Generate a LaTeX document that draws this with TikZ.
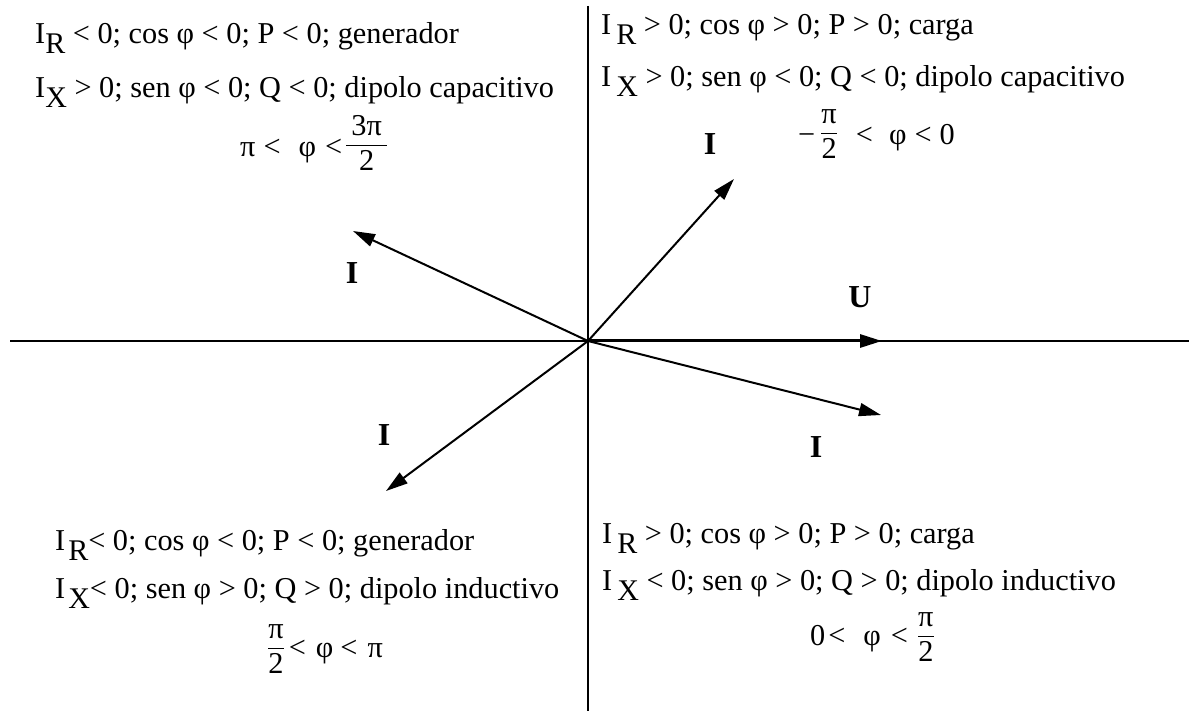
\documentclass[tikz,border=0pt]{standalone}
\usepackage{amsmath}
\usepackage{fontspec}
\setmainfont{Liberation Serif}
\usetikzlibrary{arrows.meta}
\newcommand{\Sb}[1]{\raisebox{-10pt}{\fontsize{30}{31}\selectfont #1}}
\newcommand{\fr}[3][0pt]{\raisebox{#1}{$\genfrac{}{}{1.4pt}{0}{\mbox{#2}}{\mbox{#3}}$}}
\begin{document}
\begin{tikzpicture}[x=1pt,y=-1pt,
  txt/.style={anchor=base west,inner sep=0pt,font=\fontsize{30.3}{35}\selectfont},
  lbl/.style={inner sep=0pt,font=\fontsize{32}{36}\selectfont\bfseries},
  axis/.style={line width=1.4pt},
  vec/.style={line width=2pt,-{Triangle[length=22pt,width=13pt]}},
  uvec/.style={line width=3pt,-{Triangle[length=22pt,width=13pt]}}]
\useasboundingbox (0,0) rectangle (1189,711);
% axes
\coordinate (O) at (588,341);
\coordinate (xl) at (10,341);
\coordinate (xr) at (1189,341);
\coordinate (yt) at (588,6);
\coordinate (yb) at (588,711);
\draw[axis] (xl) -- (xr);
\draw[axis] (yt) -- (yb);
% vectors
\coordinate (tU) at (882,341);
\coordinate (tUL) at (353,231);
\coordinate (tUR) at (734,179);
\coordinate (tLL) at (386,491);
\coordinate (tLR) at (881,415);
\draw[uvec] (O) -- (tU);
\draw[vec] (O) -- (tUL);
\draw[vec] (O) -- (tUR);
\draw[vec] (O) -- (tLL);
\draw[vec] (O) -- (tLR);
% vector labels
\node[lbl] (Ul) at (860,297) {U};
\node[lbl] (Iul) at (352,273) {I};
\node[lbl] (Iur) at (710,144) {I};
\node[lbl] (Ill) at (384,435) {I};
\node[lbl] (Ilr) at (816,447) {I};
% top-left quadrant
\node[txt] (q2a) at (35,44) {I\Sb{R} < 0; cos φ < 0; P < 0; generador};
\node[txt] (q2b) at (35,98) {I\Sb{X} > 0; sen φ < 0; Q < 0; dipolo capacitivo};
\node[txt] (q2c) at (240,157) {π\hspace{8pt}<\hspace{18pt}φ\hspace{9pt}<\hspace{3pt}\fr[5pt]{\hspace{5pt}3π\hspace{5pt}}{2}};
% top-right quadrant
\node[txt] (q1a) at (601,35) {I\hspace{5pt}\Sb{R} > 0; cos φ > 0; P > 0; carga};
\node[txt] (q1b) at (601,87) {I\hspace{5pt}\Sb{X} > 0; sen φ < 0; Q < 0; dipolo capacitivo};
\node[txt] (q1c) at (798,145) {−\hspace{5pt}\fr[5pt]{π}{2}\hspace{18pt}<\hspace{16pt}φ\hspace{8pt}<\hspace{8pt}0};
% bottom-left quadrant
\node[txt] (q3a) at (55,550) {I\hspace{3pt}\Sb{R}< 0; cos φ < 0; P < 0; generador};
\node[txt] (q3b) at (55,598) {I\hspace{3pt}\Sb{X}< 0; sen φ > 0; Q > 0; dipolo inductivo};
\node[txt] (q3c) at (267,657) {\fr[2pt]{π}{2}\hspace{4pt}<\hspace{10pt}φ\hspace{7pt}<\hspace{10pt}π};
% bottom-right quadrant
\node[txt] (q4a) at (602,543) {I\hspace{5pt}\Sb{R} > 0; cos φ > 0; P > 0; carga};
\node[txt] (q4b) at (602,590) {I\hspace{5pt}\Sb{X} < 0; sen φ > 0; Q > 0; dipolo inductivo};
\node[txt] (q4c) at (810,645) {0\hspace{3pt}<\hspace{18pt}φ\hspace{10pt}<\hspace{9pt}\fr[2pt]{π}{2}};
\end{tikzpicture}
\end{document}
